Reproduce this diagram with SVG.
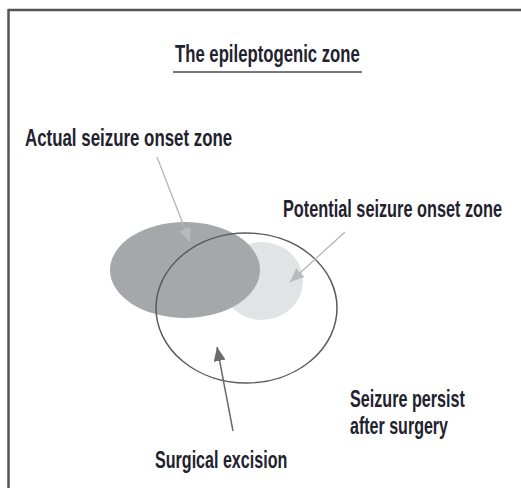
<svg xmlns="http://www.w3.org/2000/svg" width="521" height="488" viewBox="0 0 521 488">
<style>
.t{font-family:"Liberation Sans",Arial,sans-serif;font-size:23px;font-weight:bold;fill:#22222e;}
.lite{stroke:#b4b5b8;stroke-width:1.3;fill:none;}
.dark{stroke:#6a6b6e;stroke-width:1.5;fill:none;}
</style>
<defs>
<marker id="ahL" markerUnits="userSpaceOnUse" markerWidth="16" markerHeight="12" refX="14" refY="6" orient="auto">
<path d="M0,0 L14,6 L0,12 Z" fill="#b9babd"/>
</marker>
<marker id="ahD" markerUnits="userSpaceOnUse" markerWidth="16" markerHeight="12" refX="14" refY="6" orient="auto">
<path d="M0,0 L14,6 L0,12 Z" fill="#6a6b6e"/>
</marker>
</defs>
<rect width="521" height="488" fill="#ffffff"/>
<g id="frame">
<line x1="8" y1="10" x2="521" y2="10" stroke="#555" stroke-width="2.5"/>
<line x1="8.5" y1="9" x2="8.5" y2="488" stroke="#555" stroke-width="2.5"/>
</g>
<g id="title">
<text class="t" transform="translate(175,62) scale(0.7,1)" textLength="264" lengthAdjust="spacingAndGlyphs">The epileptogenic zone</text>
<line x1="173" y1="72" x2="362" y2="72" stroke="#777" stroke-width="1.8"/>
</g>
<g id="potential-zone">
<ellipse cx="262" cy="281" rx="41" ry="39" fill="#e2e3e5"/>
</g>
<g id="actual-zone">
<ellipse cx="185" cy="270" rx="75" ry="48" fill="#a6a7aa"/>
</g>
<g id="surgical-excision">
<ellipse cx="246.5" cy="308" rx="90.5" ry="75" fill="none" stroke="#5a5a5c" stroke-width="1.5"/>
</g>
<g id="connectors">
<line class="lite" x1="157" y1="157" x2="190" y2="242" marker-end="url(#ahL)"/>
<line class="lite" x1="345" y1="232" x2="290" y2="282" marker-end="url(#ahL)"/>
<line class="dark" x1="233" y1="431" x2="217" y2="347" marker-end="url(#ahD)"/>
</g>
<g id="labels">
<text class="t" transform="translate(25,146) scale(0.7,1)" textLength="296" lengthAdjust="spacingAndGlyphs">Actual seizure onset zone</text>
<text class="t" transform="translate(283,217) scale(0.7,1)" textLength="313" lengthAdjust="spacingAndGlyphs">Potential seizure onset zone</text>
<text class="t" transform="translate(350,407) scale(0.7,1)" textLength="164" lengthAdjust="spacingAndGlyphs">Seizure persist</text>
<text class="t" transform="translate(350,434) scale(0.7,1)" textLength="140" lengthAdjust="spacingAndGlyphs">after surgery</text>
<text class="t" transform="translate(155,468) scale(0.7,1)" textLength="189" lengthAdjust="spacingAndGlyphs">Surgical excision</text>
</g>
</svg>
